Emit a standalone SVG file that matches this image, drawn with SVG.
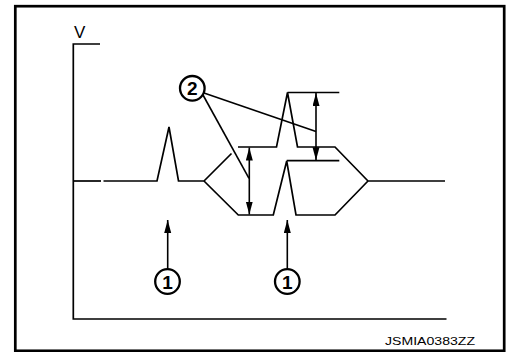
<svg xmlns="http://www.w3.org/2000/svg" width="508" height="352" viewBox="0 0 508 352">
<style>
.ln{fill:none;stroke:#000;stroke-width:1.7;stroke-linejoin:miter;stroke-linecap:butt}
.ar{fill:none;stroke:#000;stroke-width:1.6}
.cc{fill:#fff;stroke:#000;stroke-width:2.3}
.ct{font-family:"Liberation Sans",Arial,sans-serif;font-weight:bold;font-size:19px;text-anchor:middle}
</style>
<defs>
<marker id="ah" markerUnits="userSpaceOnUse" markerWidth="14" markerHeight="8" refX="13" refY="3.5" orient="auto-start-reverse">
<path d="M0,0 L13,3.5 L0,7 Z" fill="#000"/>
</marker>
</defs>
<rect x="15.3" y="6.2" width="488.9" height="344.6" fill="#fff" stroke="#000" stroke-width="2.7"/>
<g id="axes">
<path class="ln" d="M100,44 H73.3 V319 H446.5"/>
<text x="74" y="38" font-family="Liberation Sans,Arial,sans-serif" font-size="17">V</text>
</g>
<g id="waveform">
<path class="ln" d="M73.3,181 H101"/>
<path class="ln" d="M103.5,181 H157 L169,127 L178.5,181 H204 L231.5,153.5"/>
<path class="ln" d="M238,147 H276.5 L287.5,92.5 L297.5,147 H335 L368,181 H445"/>
<path class="ln" d="M287.5,92.5 H339.3"/>
<path class="ln" d="M204,181 L238.3,215 H273.3 L286.7,161 L296,215 H335 L368,181"/>
<path class="ln" d="M286.7,160.7 H339.3"/>
</g>
<g id="connectors">
<line class="ar" x1="249.3" y1="181" x2="249.3" y2="147.5" marker-end="url(#ah)"/>
<line class="ar" x1="249.3" y1="181" x2="249.3" y2="214.5" marker-end="url(#ah)"/>
<line class="ar" x1="316" y1="126" x2="316" y2="93" marker-end="url(#ah)"/>
<line class="ar" x1="316" y1="126" x2="316" y2="160.2" marker-end="url(#ah)"/>
<line class="ar" x1="167.7" y1="268.5" x2="167.7" y2="220" marker-end="url(#ah)"/>
<line class="ar" x1="287.3" y1="268.5" x2="287.3" y2="220" marker-end="url(#ah)"/>
<line class="ar" x1="203" y1="95" x2="249" y2="178.3"/>
<line class="ar" x1="204" y1="93" x2="316" y2="131.5"/>
</g>
<g id="label2">
<circle class="cc" cx="192.3" cy="88.3" r="12.3"/>
<text class="ct" x="192.3" y="95.3">2</text>
</g>
<g id="label1a">
<circle class="cc" cx="167.5" cy="281.5" r="12.3"/>
<text class="ct" x="167.5" y="288.5">1</text>
</g>
<g id="label1b">
<circle class="cc" cx="287.3" cy="281.5" r="12.3"/>
<text class="ct" x="287.3" y="288.5">1</text>
</g>
<text x="385" y="344.5" font-family="Liberation Sans,Arial,sans-serif" font-size="11.5" textLength="90" lengthAdjust="spacingAndGlyphs">JSMIA0383ZZ</text>
</svg>
